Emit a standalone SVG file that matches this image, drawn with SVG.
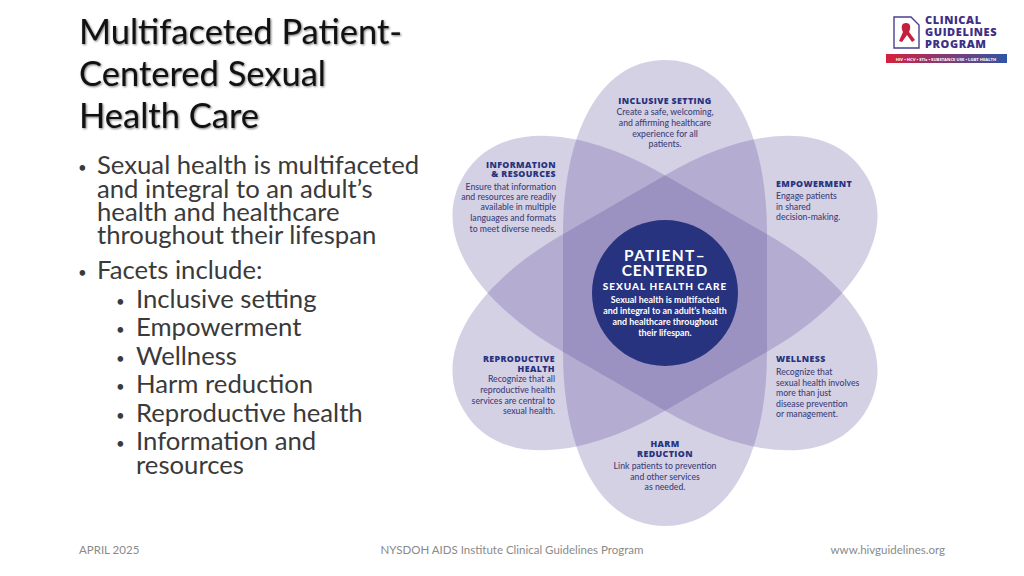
<svg xmlns="http://www.w3.org/2000/svg" width="1024" height="576" viewBox="0 0 1024 576">
<style>
text{font-family:Lato,"Open Sans",sans-serif}
.title{font-size:34.5px;fill:#111;filter:drop-shadow(1.5px 1.5px 1px #777)}
.b{font-size:25.7px;fill:#3a3a3a}
.d{font-size:15px;fill:#3a3a3a}
.foot{font-size:11.5px;fill:#8a8a8a}
.pt{font-family:"Open Sans",sans-serif;font-size:8.8px;font-weight:800;fill:#27337f;letter-spacing:.4px}
.pb{font-size:8.7px;fill:#3c3f78;font-weight:500}
.c{fill:#fff;text-anchor:middle;font-weight:700}
.m{text-anchor:middle}.e{text-anchor:end}
.petal{fill:#4a3a90;fill-opacity:.23}
.lg{font-family:"Open Sans",sans-serif;font-size:11px;font-weight:800;fill:#3d2f86;letter-spacing:.6px}
</style>
<defs>
<path id="pet" d="M0,-233C-68,-233 -102,-155 -102,-60 L-102,60 C-102,155 -68,233 0,233 C68,233 102,155 102,60 L102,-60 C102,-155 68,-233 0,-233Z"/>
<linearGradient id="gr"><stop offset="0" stop-color="#d6203f"/><stop offset="1" stop-color="#2f55a5"/></linearGradient>
</defs>
<g id="title"><text class="title" x="79" y="44">Multifaceted Patient-</text><text class="title" x="79" y="86">Centered Sexual</text><text class="title" x="79" y="128">Health Care</text></g>
<g id="bullets">
<text class="d" x="78" y="173">•</text><text class="b" x="97" y="174">Sexual health is multifaceted</text>
<text class="b" x="97" y="198">and integral to an adult’s</text>
<text class="b" x="97" y="221">health and healthcare</text>
<text class="b" x="97" y="244">throughout their lifespan</text>
<text class="d" x="78" y="278">•</text><text class="b" x="97" y="279">Facets include:</text>
<text class="d" x="116" y="307">•</text><text class="b" x="136" y="308">Inclusive setting</text>
<text class="d" x="116" y="335">•</text><text class="b" x="136" y="336">Empowerment</text>
<text class="d" x="116" y="364">•</text><text class="b" x="136" y="365">Wellness</text>
<text class="d" x="116" y="392">•</text><text class="b" x="136" y="393">Harm reduction</text>
<text class="d" x="116" y="421">•</text><text class="b" x="136" y="422">Reproductive health</text>
<text class="d" x="116" y="449">•</text><text class="b" x="136" y="450">Information and</text>
<text class="b" x="136" y="474">resources</text>
</g>
<g id="flower">
<use href="#pet" class="petal" transform="translate(665,293)"/>
<use href="#pet" class="petal" transform="translate(665,293) rotate(60)"/>
<use href="#pet" class="petal" transform="translate(665,293) rotate(120)"/>
</g>
<g id="center">
<circle cx="665" cy="293" r="73" fill="#27337f"/>
<text class="c" x="665" y="261" font-size="15.5" letter-spacing="1.3">PATIENT–</text>
<text class="c" x="665" y="276" font-size="15.5" letter-spacing=".8">CENTERED</text>
<text class="c" x="665" y="289.5" font-size="10" letter-spacing="1" style="font-weight:900">SEXUAL HEALTH CARE</text>
<text class="c" x="665" y="303" font-size="8.9">Sexual health is multifacted</text>
<text class="c" x="665" y="314" font-size="8.9">and integral to an adult’s health</text>
<text class="c" x="665" y="325" font-size="8.9">and healthcare throughout</text>
<text class="c" x="665" y="336" font-size="8.9">their lifespan.</text>
</g>
<g id="inclusive"><text class="pt m" x="665" y="104">INCLUSIVE SETTING</text>
<text class="pb m" x="665" y="115">Create a safe, welcoming,</text><text class="pb m" x="665" y="126">and affirming healthcare</text><text class="pb m" x="665" y="137">experience for all</text><text class="pb m" x="665" y="147">patients.</text></g>
<g id="information"><text class="pt e" x="556" y="168">INFORMATION</text><text class="pt e" x="556" y="177">&amp; RESOURCES</text>
<text class="pb e" x="556" y="190">Ensure that information</text><text class="pb e" x="556" y="200">and resources are readily</text><text class="pb e" x="556" y="210">available in multiple</text><text class="pb e" x="556" y="221">languages and formats</text><text class="pb e" x="556" y="232">to meet diverse needs.</text></g>
<g id="empowerment"><text class="pt" x="776" y="187">EMPOWERMENT</text>
<text class="pb" x="776" y="199">Engage patients</text><text class="pb" x="776" y="210">in shared</text><text class="pb" x="776" y="220">decision-making.</text></g>
<g id="reproductive"><text class="pt e" x="555" y="362">REPRODUCTIVE</text><text class="pt e" x="555" y="372">HEALTH</text>
<text class="pb e" x="555" y="382">Recognize that all</text><text class="pb e" x="555" y="393">reproductive health</text><text class="pb e" x="555" y="404">services are central to</text><text class="pb e" x="555" y="414">sexual health.</text></g>
<g id="wellness"><text class="pt" x="776" y="362">WELLNESS</text>
<text class="pb" x="776" y="375">Recognize that</text><text class="pb" x="776" y="386">sexual health involves</text><text class="pb" x="776" y="396">more than just</text><text class="pb" x="776" y="407">disease prevention</text><text class="pb" x="776" y="417">or management.</text></g>
<g id="harm"><text class="pt m" x="665" y="447">HARM</text><text class="pt m" x="665" y="457">REDUCTION</text>
<text class="pb m" x="665" y="469">Link patients to prevention</text><text class="pb m" x="665" y="480">and other services</text><text class="pb m" x="665" y="490">as needed.</text></g>
<g id="logo">
<path d="M894,17H911L919,25V48H894Z" fill="none" stroke="#4a3f8f" stroke-width="1.4"/>
<path d="M906,23C901,23 901,28 903,32L899,41 902,42 907,35 912,42 915,40 909,32C911,28 911,23 906,23Z" fill="#c5203d"/>
<text class="lg" x="925" y="24">CLINICAL</text><text class="lg" x="925" y="36">GUIDELINES</text><text class="lg" x="925" y="47.5">PROGRAM</text>
<rect x="886" y="54" width="121" height="9" fill="url(#gr)"/>
<text x="946" y="60.5" text-anchor="middle" font-size="4.2" fill="#fff" style="font-family:'Open Sans',sans-serif;font-weight:700">HIV • HCV • STIs • SUBSTANCE USE • LGBT HEALTH</text>
</g>
<g id="footer"><text class="foot" x="79" y="554">APRIL 2025</text><text class="foot m" x="512" y="554">NYSDOH AIDS Institute Clinical Guidelines Program</text><text class="foot e" x="945" y="554">www.hivguidelines.org</text></g>
</svg>
